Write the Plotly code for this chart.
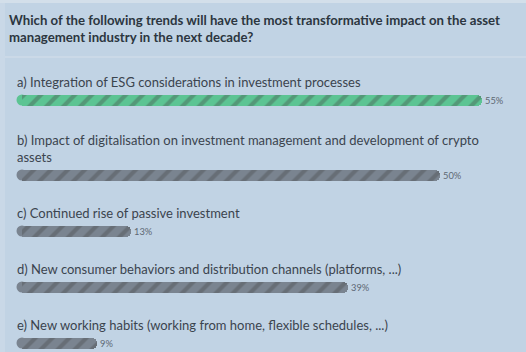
import plotly.graph_objects as go

# ---- data ----
title_text = ("Which of the following trends will have the most transformative impact on the asset<br>"
              "management industry in the next decade?")
categories = [
    "a) Integration of ESG considerations in investment processes",
    "b) Impact of digitalisation on investment management and development of crypto<br>assets",
    "c) Continued rise of passive investment",
    "d) New consumer behaviors and distribution channels (platforms, ...)",
    "e) New working habits (working from home, flexible schedules, ...)",
]
values = [55, 50, 13, 39, 9]
highlight = [True, False, False, False, False]

# ---- layout helpers ----
W, H = 526, 352
BG = "#c1d3e4"
GREEN, GREEN_STRIPE = "#5cc493", "#9fe2c2"
GRAY, GRAY_STRIPE = "#7a8490", "#aeb6c0"
PX_PER_PCT = 8.36
X0_PX = 22           # pixel where 0% sits
BAR_H = 11

x_min = -X0_PX / PX_PER_PCT
x_max = (W - X0_PX) / PX_PER_PCT

# vertical positions derived from label line counts
ys = []
y = 100
for i, c in enumerate(categories):
    if i > 0:
        y += 56 + 19 * c.count("<br>")
    ys.append(y)

colors = [GREEN if h else GRAY for h in highlight]
stripes = [GREEN_STRIPE if h else GRAY_STRIPE for h in highlight]

fig = go.Figure()
fig.add_trace(go.Bar(
    x=values,
    y=ys,
    orientation="h",
    width=BAR_H,
    marker=dict(
        color=colors,
        cornerradius=6,
        line=dict(width=0),
        pattern=dict(shape="/", fgcolor=stripes, fgopacity=0.35, size=12, solidity=0.35, fillmode="overlay"),
    ),
    text=[f"{v}%" for v in values],
    textposition="outside",
    textfont=dict(family="Lato", size=11, color="#5d6873"),
    cliponaxis=False,
    hoverinfo="skip",
))

annotations = [dict(
    text="<b>" + title_text.replace("<br>", "</b><br><b>") + "</b>",
    xref="paper", yref="y", x=7 / W, y=10, xanchor="left", yanchor="top",
    align="left", showarrow=False,
    font=dict(family="Lato", size=13.2, color="#2c3640"),
)]
for c, yy in zip(categories, ys):
    annotations.append(dict(
        text=c, xref="paper", yref="y", x=15 / W, y=yy - 8, xanchor="left", yanchor="bottom",
        align="left", showarrow=False,
        font=dict(family="Lato", size=13, color="#3b444e"),
    ))

shapes = [
    dict(type="rect", xref="paper", yref="y", x0=0, x1=1, y0=0, y1=3, fillcolor="#d3dfea", line=dict(width=0), layer="below"),
    dict(type="rect", xref="paper", yref="y", x0=0, x1=1, y0=56, y1=58, fillcolor="#cbd9e7", line=dict(width=0), layer="below"),
    dict(type="rect", xref="paper", yref="y", x0=0, x1=5 / W, y0=3, y1=H, fillcolor="#c9d8e7", line=dict(width=0), layer="below"),
]
# rounded left caps of the bars
r = BAR_H / 2
for yy, col in zip(ys, colors):
    shapes.append(dict(
        type="circle", xref="x", yref="y",
        xsizemode="pixel", ysizemode="pixel", xanchor=0, yanchor=yy,
        x0=-r, x1=r, y0=-r, y1=r,
        fillcolor=col, line=dict(width=0), layer="below",
    ))

fig.update_layout(
    width=W, height=H,
    margin=dict(l=0, r=0, t=0, b=0),
    paper_bgcolor=BG, plot_bgcolor=BG,
    showlegend=False,
    xaxis=dict(range=[x_min, x_max], visible=False, fixedrange=True),
    yaxis=dict(range=[H, 0], visible=False, fixedrange=True),
    annotations=annotations,
    shapes=shapes,
    bargap=0,
)

fig.write_html("out.html", config={"displayModeBar": False})
